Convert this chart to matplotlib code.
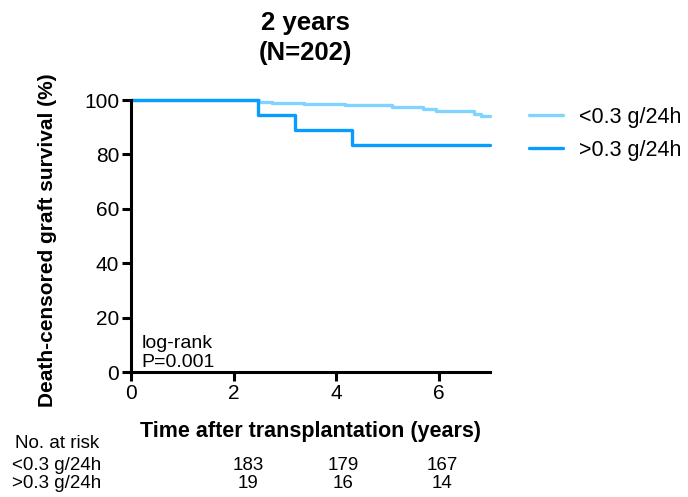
import matplotlib
matplotlib.use("Agg")
import matplotlib.pyplot as plt

plt.rcParams["font.family"] = ["Liberation Sans", "DejaVu Sans"]

# Kaplan-Meier step data (years, % surviving)
low_times = [0, 2.49, 2.75, 3.37, 4.18, 5.09, 5.70, 5.94, 6.69, 6.82, 7.0]
low_surv = [100, 99.2, 98.8, 98.4, 98.0, 97.6, 96.6, 96.0, 94.9, 94.1, 94.1]
high_times = [0, 2.47, 3.20, 4.30, 7.0]
high_surv = [100, 94.4, 88.9, 83.3, 83.3]

group_labels = ["<0.3 g/24h", ">0.3 g/24h"]
risk_low = [183, 179, 167]
risk_high = [19, 16, 14]

LIGHT = "#80D4FF"
DARK = "#0A9BFF"
W, H = 688, 497

fig = plt.figure(figsize=(W / 100, H / 100), dpi=100)
ax = fig.add_axes([131 / W, 1 - 372 / H, 359 / W, 272 / H])

ax.step(low_times, low_surv, where="post", color=LIGHT, lw=2.4, clip_on=False,
        label=group_labels[0], solid_capstyle="round")
ax.step(high_times, high_surv, where="post", color=DARK, lw=2.4, clip_on=False,
        label=group_labels[1], solid_capstyle="round")

ax.set_xlim(0, 7)
ax.set_ylim(0, 100)
ax.set_xticks([0, 2, 4, 6])
ax.set_yticks([0, 20, 40, 60, 80, 100])
for side in ("top", "right"):
    ax.spines[side].set_visible(False)
for side in ("left", "bottom"):
    ax.spines[side].set_linewidth(2.2)
ax.tick_params(width=2.2, length=6.5, labelsize=15, pad=2)

fig.text(48 / W, 1 - 240 / H, "Death-censored graft survival (%)", fontsize=15,
         fontweight="bold", rotation=90, ha="center", va="center")
fig.text(310 / W, 1 - 431 / H, "Time after transplantation (years)", fontsize=15.5,
         fontweight="bold", ha="center", va="center")
fig.text(305 / W, 1 - 38 / H, "2 years\n(N=202)", fontsize=18.5, fontweight="bold",
         ha="center", va="center", linespacing=1.3)

ax.text(0.2, 0.55, "log-rank\nP=0.001", fontsize=14, va="bottom", ha="left", linespacing=1.1)

fig.legend(loc="upper left", bbox_to_anchor=(529 / W, 1 - 107 / H), frameon=False,
           fontsize=15.5, handlelength=1.6, labelspacing=0.55, handletextpad=0.7,
           borderpad=0, borderaxespad=0)

# Number at risk table
risk_x = [248, 343, 442]
fig.text(57 / W, 1 - 444 / H, "No. at risk", fontsize=13.5, ha="center", va="center")
for row_y, label, counts in [(465, group_labels[0], risk_low), (484, group_labels[1], risk_high)]:
    fig.text(12 / W, 1 - row_y / H, label, fontsize=13.5, ha="left", va="center")
    for xp, n in zip(risk_x, counts):
        fig.text(xp / W, 1 - row_y / H, str(n), fontsize=13.5, ha="center", va="center")

fig.savefig("out.png", dpi=100)
